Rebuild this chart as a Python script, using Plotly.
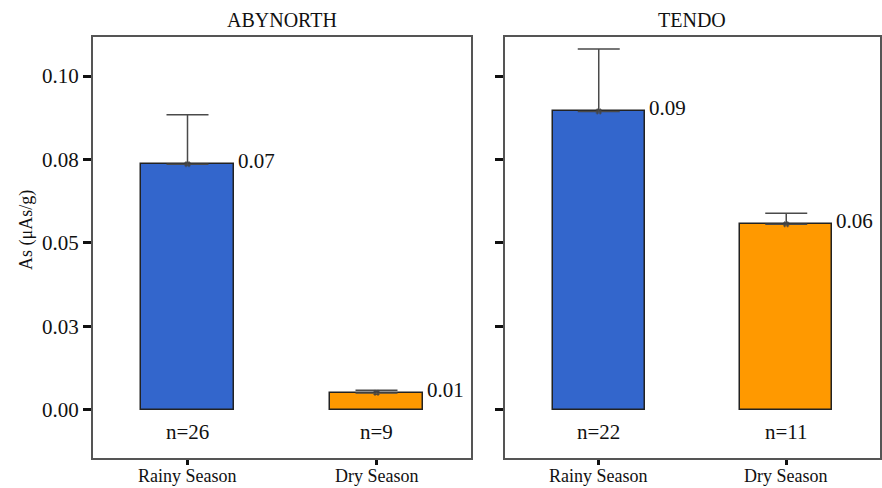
import plotly.graph_objects as go

# Arsenic concentration by season at two sites
seasons = ["Rainy Season", "Dry Season"]
sites = ["ABYNORTH", "TENDO"]

abynorth_mean = [0.0736, 0.0051]
abynorth_err = [0.0148, 0.0008]
abynorth_n = [26, 9]

tendo_mean = [0.0894, 0.0556]
tendo_err = [0.0187, 0.0033]
tendo_n = [22, 11]

bar_colors = ["#3366CC", "#FF9900"]
y_ticks = [0.0, 0.025, 0.05, 0.075, 0.1]
y_tick_text = ["0.00", "0.03", "0.05", "0.08", "0.10"]

FONT = "Liberation Serif"
fig = go.Figure()

panels = [
    (abynorth_mean, abynorth_err, abynorth_n, "x", "y"),
    (tendo_mean, tendo_err, tendo_n, "x2", "y2"),
]

for means, errs, ns, xa, ya in panels:
    fig.add_trace(go.Bar(
        x=[0, 1], y=means, width=0.49,
        marker=dict(color=bar_colors, line=dict(color="#222222", width=1.5)),
        xaxis=xa, yaxis=ya, showlegend=False,
    ))
    fig.add_trace(go.Scatter(
        x=[0, 1], y=means, mode="markers",
        marker=dict(symbol="hash-open", size=6, color="#444444",
                    line=dict(width=1, color="#444444")),
        error_y=dict(type="data", symmetric=False, array=errs,
                     arrayminus=[0, 0], color="#4a4a4a", thickness=1.5, width=21),
        xaxis=xa, yaxis=ya, showlegend=False,
    ))
    for i, (m, n) in enumerate(zip(means, ns)):
        fig.add_annotation(x=i + 0.245, y=m, xref=xa, yref=ya, text=f"{m:.2f}",
                           showarrow=False, xanchor="left", yanchor="middle",
                           xshift=2, yshift=3,
                           font=dict(family=FONT, size=21, color="#111111"))
        fig.add_annotation(x=i, y=-0.0066, xref=xa, yref=ya, text=f"n={n}",
                           showarrow=False, xanchor="center", yanchor="middle",
                           font=dict(family=FONT, size=21, color="#111111"))
    # season labels under each category
    for i, s in enumerate(seasons):
        fig.add_annotation(x=i, y=0, xref=xa, yref="paper", text=s,
                           showarrow=False, xanchor="center", yanchor="middle",
                           yshift=-18,
                           font=dict(family=FONT, size=18, color="#111111"))

dom1 = [0.0, 0.4803]
dom2 = [0.5235, 1.0]
yr = [-0.0144, 0.1117]

xcommon = dict(range=[-0.5, 1.5], tickvals=[0, 1], showticklabels=False,
               ticks="outside", ticklen=5, tickwidth=3, tickcolor="#111111",
               showline=True, mirror=True, linecolor="#555555", linewidth=2,
               showgrid=False, zeroline=False, automargin=False)
ycommon = dict(range=yr, tickvals=y_ticks, ticktext=y_tick_text,
               ticks="outside", ticklen=8, tickwidth=3, tickcolor="#111111",
               showline=True, mirror=True, linecolor="#555555", linewidth=2,
               showgrid=False, zeroline=False, automargin=False)

fig.update_layout(
    width=882, height=488,
    margin=dict(l=93, r=2, t=37, b=30, autoexpand=False),
    plot_bgcolor="white", paper_bgcolor="white",
    bargap=0,
    xaxis=dict(domain=dom1, **xcommon),
    xaxis2=dict(domain=dom2, anchor="y2", **xcommon),
    yaxis=dict(domain=[0, 1], tickfont=dict(family=FONT, size=21, color="#111111"),
               **ycommon),
    yaxis2=dict(domain=[0, 1], anchor="x2", showticklabels=False, **ycommon),
)

for name, dom in zip(sites, [dom1, dom2]):
    fig.add_annotation(x=(dom[0] + dom[1]) / 2, y=1, xref="paper", yref="paper",
                       text=name, showarrow=False, xanchor="center",
                       yanchor="middle", yshift=17,
                       font=dict(family=FONT, size=20, color="#111111"))

fig.add_annotation(x=0, y=0.5416, xref="paper", yref="paper",
                   text="As (μAs/g)", textangle=-90, showarrow=False,
                   xanchor="center", yanchor="middle", xshift=-66,
                   font=dict(family=FONT, size=18, color="#111111"))

fig.write_html("out.html")
